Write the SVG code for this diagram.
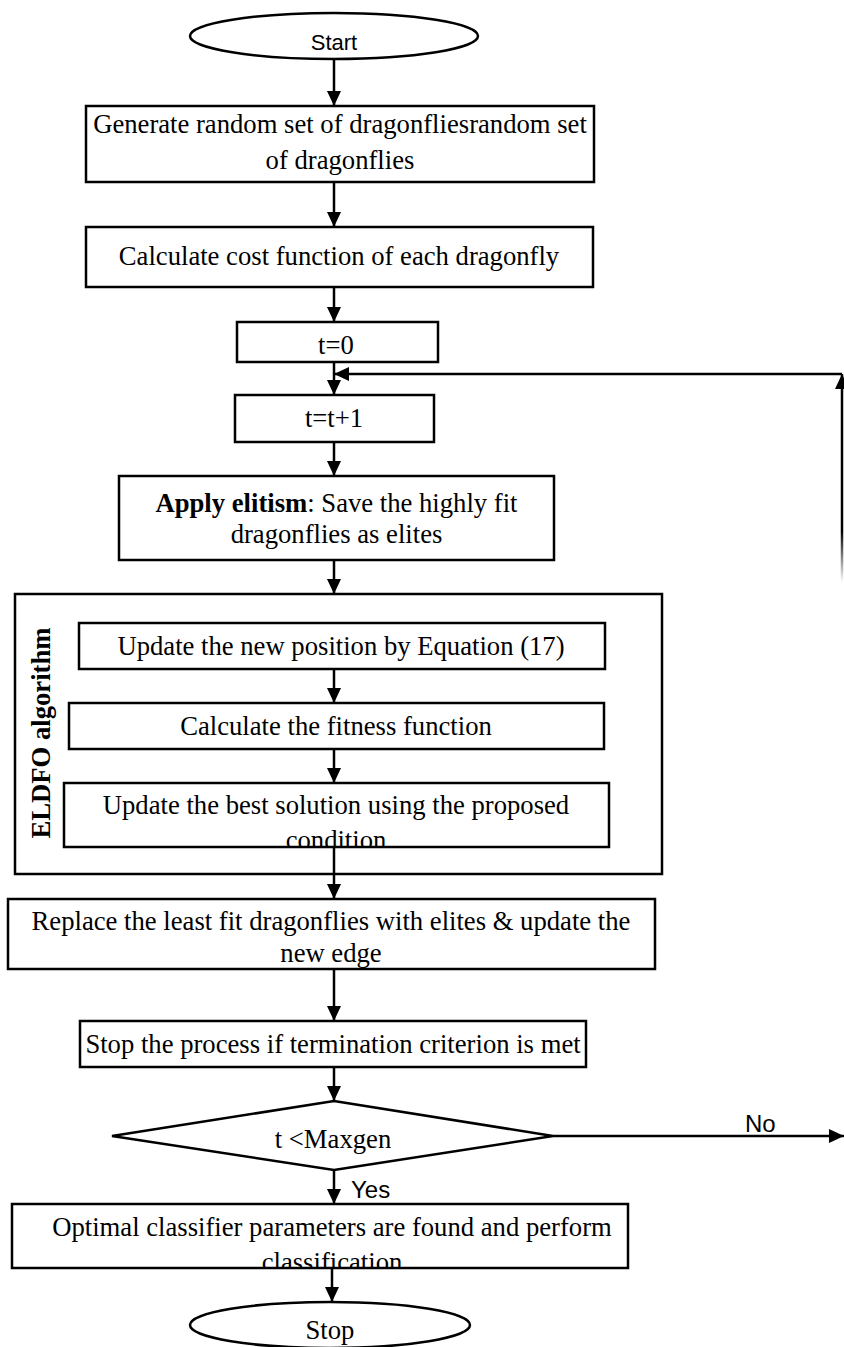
<svg xmlns="http://www.w3.org/2000/svg" width="844" height="1347" viewBox="0 0 844 1347">
<style>
.box{fill:#fff;stroke:#000;stroke-width:2.5}
.t{font-family:"Liberation Serif","Times New Roman",serif;font-size:26.67px;fill:#000;text-anchor:middle}
.b{font-weight:bold}
.s{font-family:"Liberation Sans",Arial,sans-serif;fill:#000}
.c{fill:none;stroke:#000;stroke-width:2.5}
</style>
<defs>
<marker id="ah" viewBox="0 0 15 14" refX="15" refY="7" markerWidth="15" markerHeight="14" markerUnits="userSpaceOnUse" orient="auto">
<path d="M0,0 L15,7 L0,14 z" fill="#000"/>
</marker>
<linearGradient id="fade" gradientUnits="userSpaceOnUse" x1="0" y1="380" x2="0" y2="582">
<stop offset="0.75" stop-color="#000" stop-opacity="1"/>
<stop offset="1" stop-color="#000" stop-opacity="0"/>
</linearGradient>
<clipPath id="clipBest"><rect x="64" y="783" width="545" height="63"/></clipPath>
<clipPath id="clipOpt"><rect x="12" y="1204" width="616" height="63"/></clipPath>
</defs>

<g id="start">
<ellipse class="box" cx="334" cy="36" rx="144" ry="23"/>
<text class="s" x="334" y="50" font-size="22" text-anchor="middle">Start</text>
</g>

<g id="generate">
<rect class="box" x="86" y="106" width="508" height="76"/>
<text class="t" x="340" y="133">Generate random set of dragonfliesrandom set</text>
<text class="t" x="340" y="169">of dragonflies</text>
</g>

<g id="cost">
<rect class="box" x="86" y="227" width="507" height="60"/>
<text class="t" x="339" y="265">Calculate cost function of each dragonfly</text>
</g>

<g id="t0">
<rect class="box" x="237" y="322" width="201" height="40"/>
<text class="t" x="336" y="354">t=0</text>
</g>

<g id="tinc">
<rect class="box" x="235" y="395" width="199" height="47"/>
<text class="t" x="334" y="427">t=t+1</text>
</g>

<g id="elitism">
<rect class="box" x="119" y="476" width="435" height="84"/>
<text class="t" x="336.5" y="512"><tspan class="b">Apply elitism</tspan>: Save the highly fit</text>
<text class="t" x="336.5" y="543">dragonflies as elites</text>
</g>

<g id="eldfo">
<rect class="box" x="15" y="594" width="647" height="280"/>
<text class="t b" transform="translate(50,733) rotate(-90)" x="0" y="0">ELDFO algorithm</text>
</g>

<g id="update-position">
<rect class="box" x="79" y="623" width="526" height="46"/>
<text class="t" x="341" y="655">Update the new position by Equation (17)</text>
</g>

<g id="fitness">
<rect class="box" x="69" y="703" width="535" height="46"/>
<text class="t" x="336" y="735">Calculate the fitness function</text>
</g>

<g id="update-best">
<rect class="box" x="64" y="783" width="545" height="64"/>
<g clip-path="url(#clipBest)">
<text class="t" x="336" y="814">Update the best solution using the proposed</text>
<text class="t" x="336" y="849">condition</text>
</g>
</g>

<g id="replace">
<rect class="box" x="8" y="899" width="647" height="70"/>
<text class="t" x="331" y="930">Replace the least fit dragonflies with elites &amp; update the</text>
<text class="t" x="331" y="962">new edge</text>
</g>

<g id="stop-process">
<rect class="box" x="80" y="1021" width="506" height="46"/>
<text class="t" x="333" y="1053">Stop the process if termination criterion is met</text>
</g>

<g id="decision">
<polygon class="box" points="334,1101 553,1136 334,1170 112,1136"/>
<text class="t" x="333" y="1148">t &lt;Maxgen</text>
</g>

<g id="optimal">
<rect class="box" x="12" y="1204" width="616" height="64"/>
<g clip-path="url(#clipOpt)">
<text class="t" x="332" y="1236">Optimal classifier parameters are found and perform</text>
<text class="t" x="332" y="1271">classification</text>
</g>
</g>

<g id="stop">
<ellipse class="box" cx="330" cy="1325" rx="140" ry="23"/>
<text class="t" x="330" y="1339">Stop</text>
</g>

<g id="connectors">
<line class="c" x1="334" y1="59" x2="334" y2="106" marker-end="url(#ah)"/>
<line class="c" x1="334" y1="182" x2="334" y2="227" marker-end="url(#ah)"/>
<line class="c" x1="334" y1="287" x2="334" y2="322" marker-end="url(#ah)"/>
<line class="c" x1="334" y1="362" x2="334" y2="395" marker-end="url(#ah)"/>
<line class="c" x1="334" y1="442" x2="334" y2="476" marker-end="url(#ah)"/>
<line class="c" x1="334" y1="560" x2="334" y2="594" marker-end="url(#ah)"/>
<line class="c" x1="334" y1="669" x2="334" y2="703" marker-end="url(#ah)"/>
<line class="c" x1="334" y1="749" x2="334" y2="783" marker-end="url(#ah)"/>
<line class="c" x1="334" y1="847" x2="334" y2="899" marker-end="url(#ah)"/>
<line class="c" x1="334" y1="969" x2="334" y2="1021" marker-end="url(#ah)"/>
<line class="c" x1="334" y1="1067" x2="334" y2="1101" marker-end="url(#ah)"/>
<line class="c" x1="334" y1="1170" x2="334" y2="1204" marker-end="url(#ah)"/>
<line class="c" x1="332" y1="1268" x2="332" y2="1302" marker-end="url(#ah)"/>
<line class="c" x1="553" y1="1136" x2="844" y2="1136" marker-end="url(#ah)"/>
<line x1="842" y1="582" x2="842" y2="374" stroke="url(#fade)" stroke-width="2.5" marker-end="url(#ah)"/>
<line class="c" x1="842" y1="374" x2="334" y2="374" marker-end="url(#ah)"/>
<text class="s" x="351" y="1198" font-size="24">Yes</text>
<text class="s" x="745" y="1132" font-size="24">No</text>
</g>
</svg>
